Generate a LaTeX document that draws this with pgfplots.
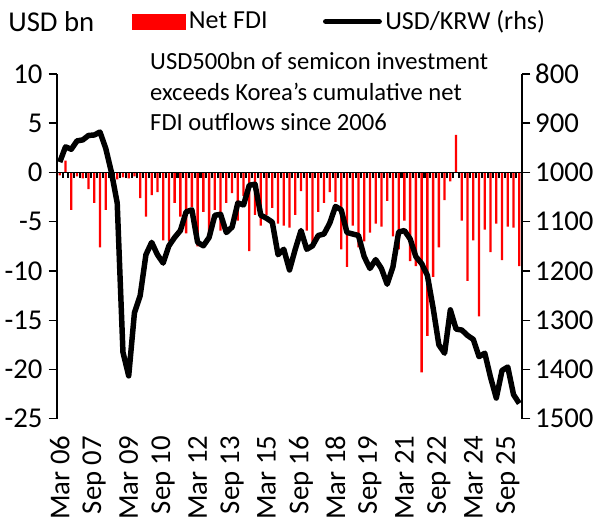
\documentclass[border=0pt]{standalone}
\usepackage{fontspec}
\setmainfont{Carlito}
\usepackage{pgfplots}
\usepackage{pgfplotstable}
\pgfplotsset{compat=1.18}

% quarterly: net FDI (USD bn) and USD/KRW average
\pgfplotstableread{
i fdi krw
0 -0.3 979
1 1.2 948
2 -3.8 953
3 -0.4 936
4 -0.6 934
5 -1.7 925
6 -3.1 924
7 -7.6 918
8 -3.8 951
9 -0.3 1000
10 -0.7 1062
11 -0.5 1365
12 -0.6 1413
13 -0.4 1285
14 -2.6 1250
15 -4.5 1167
16 -2.3 1142
17 -2.0 1167
18 -6.9 1184
19 -7.0 1149
20 -3.1 1132
21 -4.5 1118
22 -6.2 1080
23 -3.5 1076
24 -7.5 1142
25 -4.0 1149
26 -6.1 1132
27 -3.8 1087
28 -5.9 1085
29 -3.1 1122
30 -2.1 1111
31 -4.9 1062
32 -2.4 1066
33 -8.0 1026
34 -4.3 1024
35 -5.4 1087
36 -4.3 1093
37 -3.6 1101
38 -5.2 1167
39 -5.4 1156
40 -5.6 1198
41 -4.3 1156
42 -1.9 1118
43 -5.9 1156
44 -7.3 1149
45 -4.0 1128
46 -3.1 1125
47 -2.0 1103
48 -3.0 1069
49 -7.8 1076
50 -9.6 1122
51 -5.4 1125
52 -7.6 1128
53 -7.0 1171
54 -6.1 1195
55 -5.2 1177
56 -5.5 1195
57 -2.9 1227
58 -6.5 1192
59 -7.8 1121
60 -4.9 1118
61 -9.0 1135
62 -9.5 1171
63 -20.3 1185
64 -16.6 1209
65 -10.6 1275
66 -7.6 1350
67 -2.8 1367
68 -0.9 1279
69 3.8 1318
70 -4.9 1320
71 -11.0 1331
72 -6.9 1339
73 -14.6 1374
74 -5.8 1367
75 -8.1 1416
76 -5.2 1458
77 -8.9 1402
78 -5.5 1395
79 -5.6 1451
80 -9.5 1469
}\fdidata

\newcommand{\tfont}{\fontsize{21}{25}\selectfont}
\newcommand{\cfont}{\fontsize{19}{23}\selectfont}
\newcommand{\nfont}{\fontsize{18}{22}\selectfont}

\begin{document}
\begin{tikzpicture}
\pgfplotsset{
  base/.style={width=340pt, height=252pt, scale only axis,
    xmin=-0.5, xmax=80.5, clip=false,
    /pgf/number format/assume math mode=true,
    /pgf/number format/1000 sep={},
    tick label style={font=\tfont},
    every tick/.style={black, line width=1pt}}
}

\begin{axis}[base, ymin=-25, ymax=10,
  axis y line*=left, axis x line*=bottom,
  x axis line style={draw=none}, y axis line style={-, line width=1pt},
  ytick={-25,-20,...,10}, ytick align=outside, major tick length=6pt,
  yticklabel shift=1pt,
  xtick={0,6,...,78},
  xticklabels={Mar 06,Sep 07,Mar 09,Sep 10,Mar 12,Sep 13,Mar 15,Sep 16,Mar 18,Sep 19,Mar 21,Sep 22,Mar 24,Sep 25},
  xtick style={draw=none},
  xticklabel style={rotate=90, anchor=east},
  xticklabel shift=3pt,
  ybar, bar width=0.4]
\addplot[fill=red, draw=none] table[x=i, y=fdi]{\fdidata};
\node[anchor=west, inner sep=0pt, font=\tfont] at (axis description cs:-0.105,1.152) {USD bn};
\path (axis description cs:0,1) ++(0pt,54pt);
\end{axis}

% zero line with category ticks
\begin{axis}[base, ymin=-25, ymax=10,
  axis x line=middle, axis y line=none,
  x axis line style={-, line width=1.2pt},
  xtick={-0.5,0.5,...,80.5}, xticklabels={},
  xtick align=outside, major tick length=4pt,
  xtick style={line width=1.5pt}]
\end{axis}

\begin{axis}[base, ymin=800, ymax=1500, y dir=reverse,
  axis y line*=right, axis x line=none,
  y axis line style={-, line width=1pt},
  ytick={800,900,...,1500}, ytick align=outside, major tick length=6pt,
  yticklabel shift=0pt,
  legend columns=2,
  legend style={at={(axis description cs:0.16,1.152)}, anchor=west,
    draw=none, fill=none, inner sep=0pt, font=\cfont,
    nodes={inner sep=2.5pt},
    /tikz/every even column/.append style={column sep=38pt}},
  legend cell align=left]
\addlegendimage{legend image code/.code={\fill[red] (0pt,-5.5pt) rectangle (39pt,5.5pt);}}
\addlegendentry{Net FDI}
\addplot[black, line width=4pt, line join=round,
  legend image code/.code={\draw[black, line width=4pt, line cap=round] (0pt,0pt) -- (39pt,0pt);}]
  table[x=i, y=krw]{\fdidata};
\addlegendentry{USD/KRW (rhs)}
\node[anchor=north west, align=left, inner sep=0pt, font=\nfont] at (axis description cs:0.2,1.062)
  {USD500bn of semicon investment\\exceeds Korea's cumulative net\\FDI outflows since 2006};
\end{axis}
\end{tikzpicture}
\end{document}
